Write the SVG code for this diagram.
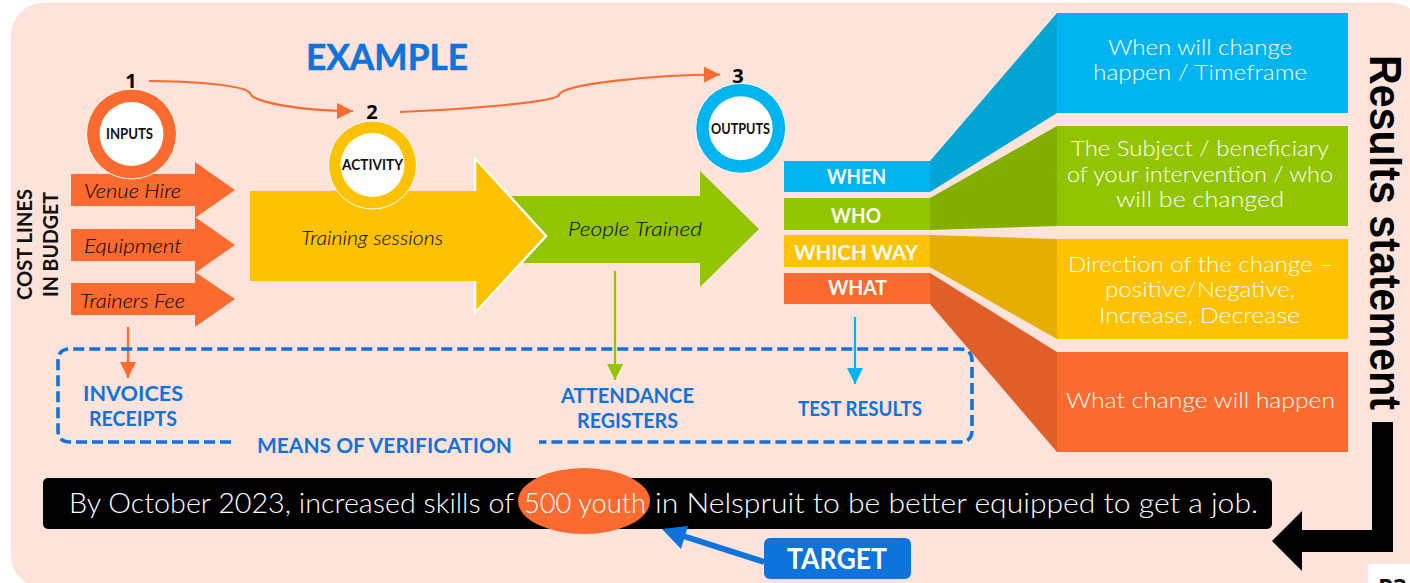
<svg xmlns="http://www.w3.org/2000/svg" width="1410" height="583" viewBox="0 0 1410 583">
<style>
text{font-family:"Lato","Open Sans","Liberation Sans",sans-serif}
.it{font-style:italic;font-size:19.500px;fill:#000;font-weight:300}
.w{fill:#fff;font-size:22px;font-weight:300}
.lb{fill:#fff;font-size:21.500px;font-weight:700}
.bl{fill:#0f73dc;font-size:21px;font-weight:700}
.num{font-family:"Open Sans","Liberation Sans",sans-serif;font-weight:700;font-size:20px;fill:#000}
.ct{font-size:14.500px;font-weight:700;fill:#111}
.cost{font-size:21.500px;font-weight:700;fill:#111}
.st{font-size:28px;font-weight:300;fill:#fff}
.c{fill:none;stroke:#fb6a2e;stroke-width:2.2}
</style>
<defs>
<marker id="mo" markerUnits="userSpaceOnUse" markerWidth="16" markerHeight="16" refX="16" refY="8" orient="auto"><path d="M0 0L16 8L0 16Z" fill="#fb6a2e"/></marker>
<marker id="mg" markerUnits="userSpaceOnUse" markerWidth="16" markerHeight="16" refX="16" refY="8" orient="auto"><path d="M0 0L16 8L0 16Z" fill="#92c400"/></marker>
<marker id="mb" markerUnits="userSpaceOnUse" markerWidth="16" markerHeight="16" refX="16" refY="8" orient="auto"><path d="M0 0L16 8L0 16Z" fill="#00b4f0"/></marker>
</defs>
<rect width="1410" height="583" fill="#fff"/>
<rect id="panel" x="11" y="2.500" width="1413" height="585.500" rx="33" fill="#fde3d9"/>
<rect x="1368" y="564" width="42" height="19" fill="#fff"/>
<text x="1378" y="596" font-size="24" font-weight="700" fill="#111" style="font-family:'Open Sans',sans-serif">P3</text>
<text x="387" y="70" text-anchor="middle" font-size="37" font-weight="700" fill="#0f73dc" stroke="#0f73dc" stroke-width="0.6" textLength="162" lengthAdjust="spacingAndGlyphs">EXAMPLE</text>

<g id="statement"><rect x="43" y="478" width="1229" height="51" rx="5" fill="#000"/><ellipse cx="584" cy="501" rx="66" ry="33" fill="#fb6a2e"/>
<text class="st" x="69" y="513" textLength="445" lengthAdjust="spacingAndGlyphs">By October 2023, increased skills of</text>
<text class="st" x="524" y="513" textLength="122" lengthAdjust="spacingAndGlyphs">500 youth</text>
<text class="st" x="655" y="513" textLength="603" lengthAdjust="spacingAndGlyphs">in Nelspruit to be better equipped to get a job.</text></g>
<g id="target"><rect x="764" y="538" width="147" height="41" rx="6" fill="#0f73dc"/><text x="787" y="569" font-size="28" font-weight="700" fill="#fff" textLength="100" lengthAdjust="spacingAndGlyphs">TARGET</text></g>

<g id="connectors">
<path class="c" marker-end="url(#mo)" d="M149 81C190 81 245 85 250 93C252 102 300 111 353 111"/>
<path class="c" marker-end="url(#mo)" d="M400 112C450 110 555 103 559 95C562 84 650 75 720 74.500"/>
<path d="M128 327V378" fill="none" stroke="#fb6a2e" stroke-width="2.2" marker-end="url(#mo)"/>
<path d="M615 271V380" fill="none" stroke="#92c400" stroke-width="2.2" marker-end="url(#mg)"/>
<path d="M855 317V384" fill="none" stroke="#00b4f0" stroke-width="2.2" marker-end="url(#mb)"/>
<path d="M231 442H70Q58 442 58 430V361Q58 349 70 349H960Q972 349 972 361V430Q972 442 960 442H539" fill="none" stroke="#0f73dc" stroke-width="3.600" stroke-dasharray="11 5"/>
<path d="M764 562L680 535" fill="none" stroke="#0f73dc" stroke-width="6"/>
<path d="M662 529L688 526L681 549Z" fill="#0f73dc"/>
</g>

<g id="cost-venue"><path d="M71 174H195V162L235 190L195 218V206H71Z" fill="#fb6a2e"/><text class="it" x="84" y="198" textLength="97" lengthAdjust="spacingAndGlyphs">Venue Hire</text></g>
<g id="cost-equipment"><path d="M71 229H195V217L235 245L195 273V261H71Z" fill="#fb6a2e"/><text class="it" x="84" y="253" textLength="98" lengthAdjust="spacingAndGlyphs">Equipment</text></g>
<g id="cost-trainers"><path d="M71 283H195V272L235 299L195 327V315H71Z" fill="#fb6a2e"/><text class="it" x="80" y="308" textLength="105" lengthAdjust="spacingAndGlyphs">Trainers Fee</text></g>
<text class="cost" transform="translate(32 300) rotate(-90)" textLength="111" lengthAdjust="spacingAndGlyphs">COST LINES</text>
<text class="cost" transform="translate(58 297) rotate(-90)" textLength="105" lengthAdjust="spacingAndGlyphs">IN BUDGET</text>

<g id="people-trained"><path d="M510 196H700V171L759 229L700 287V263H510Z" fill="#92c400"/><text class="it" x="568" y="236" textLength="134" lengthAdjust="spacingAndGlyphs">People Trained</text></g>
<g id="training"><path d="M250 191H475V156L547 236L475 315V281H250Z" fill="#ffc200"/><path d="M475 191V158L546 236L475 313V281" fill="none" stroke="#fff" stroke-width="2.500"/><text class="it" x="301" y="245" textLength="142" lengthAdjust="spacingAndGlyphs">Training sessions</text></g>

<g id="inputs"><circle cx="131.500" cy="134" r="45" fill="#fb6a2e" stroke="#fff" stroke-width="1"/><circle cx="131.500" cy="134" r="32" fill="#fff"/><text class="ct" x="106" y="139" textLength="47" lengthAdjust="spacingAndGlyphs">INPUTS</text><text class="num" x="131" y="88" text-anchor="middle">1</text></g>
<g id="activity"><circle cx="372.500" cy="165" r="44" fill="#ffc200" stroke="#fff" stroke-width="1"/><circle cx="372.500" cy="165" r="32" fill="#fff"/><text class="ct" x="342" y="170" textLength="61" lengthAdjust="spacingAndGlyphs">ACTIVITY</text><text class="num" x="372" y="119" text-anchor="middle">2</text></g>
<g id="outputs"><circle cx="740.700" cy="128.300" r="45" fill="#00b4f0" stroke="#fff" stroke-width="1"/><circle cx="740.700" cy="128.300" r="32" fill="#fff"/><text class="ct" x="711" y="133.500" textLength="59" lengthAdjust="spacingAndGlyphs">OUTPUTS</text><text class="num" x="738" y="83" text-anchor="middle">3</text></g>

<g id="when"><path d="M930 161L1057 13V113L930 192Z" fill="#00a5d6"/><rect x="784" y="161" width="146" height="31" fill="#00b4f0"/><rect x="1057" y="13" width="291" height="100" fill="#00b4f0"/><text class="lb" x="827" y="184" textLength="59" lengthAdjust="spacingAndGlyphs">WHEN</text><text class="w" x="1108" y="55" textLength="184" lengthAdjust="spacingAndGlyphs">When will change</text><text class="w" x="1093" y="80" textLength="214" lengthAdjust="spacingAndGlyphs">happen / Timeframe</text></g>
<g id="who"><path d="M930 198L1057 126V226L930 230Z" fill="#83b000"/><rect x="784" y="198" width="146" height="32" fill="#92c400"/><rect x="1057" y="126" width="291" height="100" fill="#92c400"/><text class="lb" x="831" y="223" textLength="50" lengthAdjust="spacingAndGlyphs">WHO</text><text class="w" x="1071" y="156" textLength="258" lengthAdjust="spacingAndGlyphs">The Subject / beneficiary</text><text class="w" x="1067" y="182" textLength="266" lengthAdjust="spacingAndGlyphs">of your intervention / who</text><text class="w" x="1116" y="207" textLength="168" lengthAdjust="spacingAndGlyphs">will be changed</text></g>
<g id="which-way"><path d="M930 235L1057 239V339L930 267Z" fill="#e6ae00"/><rect x="784" y="235" width="146" height="32" fill="#ffc200"/><rect x="1057" y="239" width="291" height="100" fill="#ffc200"/><text class="lb" x="794" y="260" textLength="124" lengthAdjust="spacingAndGlyphs">WHICH WAY</text><text class="w" x="1068" y="272" textLength="265" lengthAdjust="spacingAndGlyphs">Direction of the change –</text><text class="w" x="1105" y="297" textLength="190" lengthAdjust="spacingAndGlyphs">positive/Negative,</text><text class="w" x="1099" y="323" textLength="201" lengthAdjust="spacingAndGlyphs">Increase, Decrease</text></g>
<g id="what"><path d="M930 273L1057 352V452L930 304Z" fill="#e05f28"/><rect x="784" y="273" width="146" height="31" fill="#fb6a2e"/><rect x="1057" y="352" width="291" height="100" fill="#fb6a2e"/><text class="lb" x="828" y="295" textLength="59" lengthAdjust="spacingAndGlyphs">WHAT</text><text class="w" x="1066" y="408" textLength="269" lengthAdjust="spacingAndGlyphs">What change will happen</text></g>

<g id="invoices"><text class="bl" x="83" y="401" textLength="100" lengthAdjust="spacingAndGlyphs">INVOICES</text><text class="bl" x="89" y="426" textLength="88" lengthAdjust="spacingAndGlyphs">RECEIPTS</text></g>
<g id="attendance"><text class="bl" x="561" y="403" textLength="133" lengthAdjust="spacingAndGlyphs">ATTENDANCE</text><text class="bl" x="577" y="428" textLength="101" lengthAdjust="spacingAndGlyphs">REGISTERS</text></g>
<g id="test-results"><text class="bl" x="798" y="416" textLength="124" lengthAdjust="spacingAndGlyphs">TEST RESULTS</text></g>
<text class="bl" x="257" y="453" textLength="255" lengthAdjust="spacingAndGlyphs">MEANS OF VERIFICATION</text>

<text id="results-title" transform="translate(1370 55) rotate(90)" font-size="45" font-weight="700" fill="#000" style="font-family:'Liberation Sans',sans-serif" textLength="355" lengthAdjust="spacingAndGlyphs">Results statement</text>
<path id="elbow" d="M1372 422H1393V552H1302V571L1272 541L1302 511V530H1372Z" fill="#000"/>
</svg>
